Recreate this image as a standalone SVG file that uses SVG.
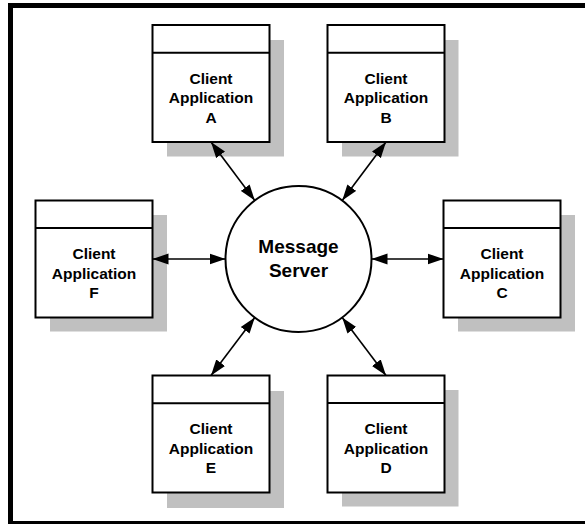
<svg xmlns="http://www.w3.org/2000/svg" width="585" height="524" viewBox="0 0 585 524">
<defs>
<style>
.shadow{fill:#c0c0c0;stroke:none}
.box{fill:#fff;stroke:#000;stroke-width:2}
.hdr{stroke:#000;stroke-width:2}
.lbl{font-family:"Liberation Sans",Arial,sans-serif;font-weight:bold;font-size:15.5px;text-anchor:middle;fill:#000}
.srv{font-family:"Liberation Sans",Arial,sans-serif;font-weight:bold;font-size:19px;text-anchor:middle;fill:#000}
.conn{stroke:#000;stroke-width:1.6;fill:none;marker-start:url(#ah);marker-end:url(#ah)}
</style>
<marker id="ah" markerUnits="userSpaceOnUse" markerWidth="17" markerHeight="12" refX="16" refY="5.5" orient="auto-start-reverse" viewBox="0 0 17 11">
<path d="M0,0 L16,5.5 L0,11 z" fill="#000"/>
</marker>
</defs>
<rect width="585" height="524" fill="#fff"/>
<g id="frame">
<rect x="8" y="3" width="577" height="5" fill="#000"/>
<rect x="8" y="3" width="5" height="521" fill="#000"/>
<rect x="8" y="521" width="577" height="3" fill="#000"/>
</g>
<g id="server">
<circle cx="298.5" cy="259" r="73" fill="#fff" stroke="#000" stroke-width="2"/>
<text class="srv" x="298.5" y="252.5">Message</text>
<text class="srv" x="298.5" y="277">Server</text>
</g>
<g id="clientA">
<rect class="shadow" x="167" y="40" width="117" height="116.5"/>
<rect class="box" x="152.5" y="25" width="117" height="117"/>
<line class="hdr" x1="152.5" y1="52.7" x2="269.5" y2="52.7"/>
<text class="lbl" x="211" y="83.5">Client</text>
<text class="lbl" x="211" y="103">Application</text>
<text class="lbl" x="211" y="122.5">A</text>
</g>
<g id="clientB">
<rect class="shadow" x="342" y="40" width="116.5" height="116.5"/>
<rect class="box" x="327.5" y="25" width="117" height="117"/>
<line class="hdr" x1="327.5" y1="52.7" x2="444.5" y2="52.7"/>
<text class="lbl" x="386" y="83.5">Client</text>
<text class="lbl" x="386" y="103">Application</text>
<text class="lbl" x="386" y="122.5">B</text>
</g>
<g id="clientC">
<rect class="shadow" x="458" y="215" width="117" height="116.5"/>
<rect class="box" x="443.5" y="200.5" width="117" height="117"/>
<line class="hdr" x1="443.5" y1="228" x2="560.5" y2="228"/>
<text class="lbl" x="502" y="259">Client</text>
<text class="lbl" x="502" y="278.5">Application</text>
<text class="lbl" x="502" y="298">C</text>
</g>
<g id="clientD">
<rect class="shadow" x="342" y="390" width="116.5" height="116.5"/>
<rect class="box" x="327.5" y="375.5" width="117" height="117"/>
<line class="hdr" x1="327.5" y1="403" x2="444.5" y2="403"/>
<text class="lbl" x="386" y="434">Client</text>
<text class="lbl" x="386" y="453.5">Application</text>
<text class="lbl" x="386" y="473">D</text>
</g>
<g id="clientE">
<rect class="shadow" x="167" y="391" width="117" height="117"/>
<rect class="box" x="152.5" y="375.5" width="117" height="117"/>
<line class="hdr" x1="152.5" y1="403.3" x2="269.5" y2="403.3"/>
<text class="lbl" x="211" y="434">Client</text>
<text class="lbl" x="211" y="453.5">Application</text>
<text class="lbl" x="211" y="473">E</text>
</g>
<g id="clientF">
<rect class="shadow" x="50" y="215" width="117" height="116.5"/>
<rect class="box" x="35.5" y="200.5" width="117" height="117"/>
<line class="hdr" x1="35.5" y1="228" x2="152.5" y2="228"/>
<text class="lbl" x="94" y="259">Client</text>
<text class="lbl" x="94" y="278.5">Application</text>
<text class="lbl" x="94" y="298">F</text>
</g>
<g id="connectors">
<line class="conn" x1="211" y1="142" x2="254.8" y2="200.5"/>
<line class="conn" x1="386" y1="142" x2="342.2" y2="200.5"/>
<line class="conn" x1="443.5" y1="259" x2="371.5" y2="259"/>
<line class="conn" x1="386" y1="375.5" x2="342.2" y2="317.5"/>
<line class="conn" x1="211" y1="375.5" x2="254.8" y2="317.5"/>
<line class="conn" x1="152.5" y1="259" x2="225.5" y2="259"/>
</g>
</svg>
